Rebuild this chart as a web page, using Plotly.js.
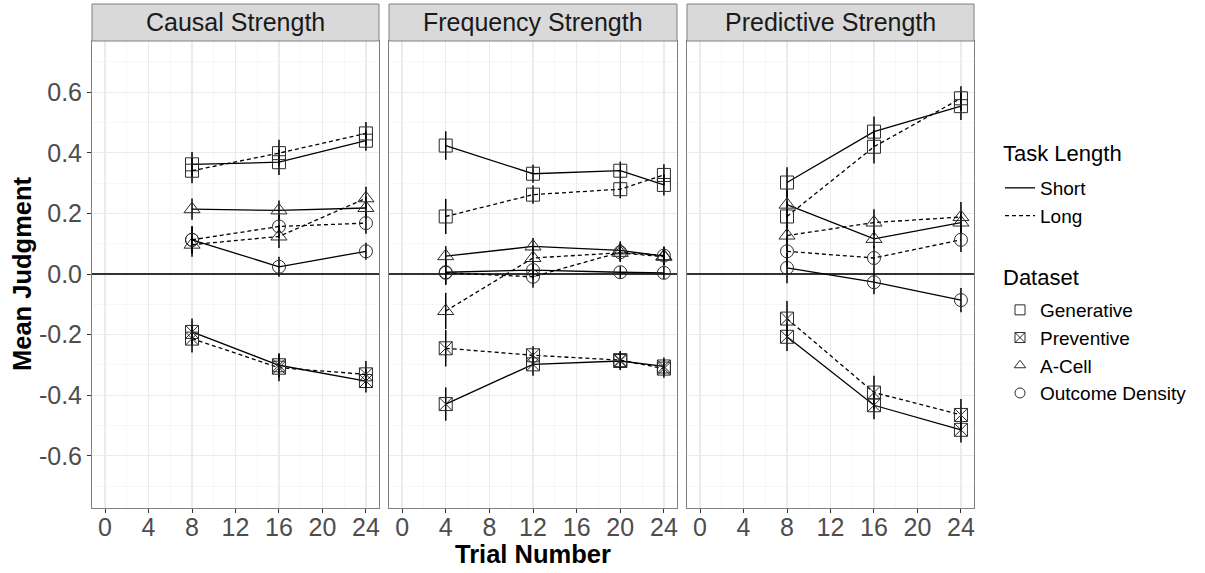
<!DOCTYPE html>
<html>
<head>
<meta charset="utf-8">
<script src="https://cdn.plot.ly/plotly-3.0.1.min.js"></script>
<style>html,body{margin:0;padding:0;background:#fff;}#chart{width:1205px;height:573px;}</style>
</head>
<body>
<div id="chart"></div>
<script>
// ---------------- DATA ----------------
const panelNames = ["Causal Strength", "Frequency Strength", "Predictive Strength"];
const datasetNames = ["Generative", "Preventive", "A-Cell", "Outcome Density"];
const lengthNames = ["Short", "Long"];

const causalTrials = [8, 16, 24];
const freqTrials = [4, 12, 20, 24];
const predTrials = [8, 16, 24];

// Causal Strength
const causalGenShort = [0.362, 0.369, 0.440];
const causalGenLong = [0.341, 0.399, 0.464];
const causalPrevShort = [-0.191, -0.301, -0.353];
const causalPrevLong = [-0.213, -0.309, -0.331];
const causalACShort = [0.214, 0.210, 0.218];
const causalACLong = [0.097, 0.124, 0.250];
const causalODShort = [0.113, 0.024, 0.075];
const causalODLong = [0.113, 0.157, 0.168];
const causalGenShortErr = [0.041, 0.042, 0.033];
const causalGenLongErr = [0.041, 0.044, 0.038];
const causalPrevShortErr = [0.044, 0.040, 0.038];
const causalPrevLongErr = [0.046, 0.045, 0.044];
const causalACShortErr = [0.035, 0.033, 0.035];
const causalACLongErr = [0.040, 0.038, 0.038];
const causalODShortErr = [0.045, 0.033, 0.028];
const causalODLongErr = [0.045, 0.038, 0.035];

// Frequency Strength
const freqGenShort = [0.424, 0.331, 0.341, 0.294];
const freqGenLong = [0.190, 0.262, 0.280, 0.327];
const freqPrevShort = [-0.429, -0.298, -0.287, -0.305];
const freqPrevLong = [-0.245, -0.268, -0.284, -0.312];
const freqACShort = [0.059, 0.091, 0.078, 0.059];
const freqACLong = [-0.122, 0.053, 0.070, 0.057];
const freqODShort = [0.006, 0.013, 0.006, 0.004];
const freqODLong = [0.004, -0.009, 0.072, 0.061];
const freqGenShortErr = [0.047, 0.030, 0.030, 0.035];
const freqGenLongErr = [0.058, 0.030, 0.030, 0.035];
const freqPrevShortErr = [0.055, 0.038, 0.030, 0.030];
const freqPrevLongErr = [0.060, 0.030, 0.030, 0.030];
const freqACShortErr = [0.033, 0.028, 0.030, 0.030];
const freqACLongErr = [0.060, 0.035, 0.030, 0.030];
const freqODShortErr = [0.040, 0.030, 0.020, 0.020];
const freqODLongErr = [0.040, 0.036, 0.030, 0.030];

// Predictive Strength
const predGenShort = [0.302, 0.470, 0.554];
const predGenLong = [0.190, 0.420, 0.580];
const predPrevShort = [-0.207, -0.433, -0.514];
const predPrevLong = [-0.147, -0.391, -0.465];
const predACShort = [0.229, 0.116, 0.170];
const predACLong = [0.127, 0.170, 0.188];
const predODShort = [0.020, -0.027, -0.086];
const predODLong = [0.075, 0.053, 0.113];
const predGenShortErr = [0.050, 0.050, 0.046];
const predGenLongErr = [0.050, 0.055, 0.040];
const predPrevShortErr = [0.047, 0.046, 0.042];
const predPrevLongErr = [0.058, 0.055, 0.053];
const predACShortErr = [0.050, 0.030, 0.035];
const predACLongErr = [0.050, 0.044, 0.050];
const predODShortErr = [0.050, 0.040, 0.040];
const predODLongErr = [0.050, 0.040, 0.040];

const xTickVals = [0, 4, 8, 12, 16, 20, 24];
const xTickText = ["0", "4", "8", "12", "16", "20", "24"];
const yTickVals = [-0.6, -0.4, -0.2, 0.0, 0.2, 0.4, 0.6];
const yTickText = ["-0.6", "-0.4", "-0.2", "0.0", "0.2", "0.4", "0.6"];

// ---------------- BUILD ----------------
const FONT = "Liberation Sans, Arial, Helvetica, sans-serif";
const symbols = ["square-open", "square-x-open", "triangle-up-open", "circle-open"];
const symSizes = [13, 13, 14, 13];
const dashes = ["solid", "4px,3px"];

const panels = [
  {trials: causalTrials,
   vals: [[causalGenShort, causalGenLong], [causalPrevShort, causalPrevLong], [causalACShort, causalACLong], [causalODShort, causalODLong]],
   errs: [[causalGenShortErr, causalGenLongErr], [causalPrevShortErr, causalPrevLongErr], [causalACShortErr, causalACLongErr], [causalODShortErr, causalODLongErr]]},
  {trials: freqTrials,
   vals: [[freqGenShort, freqGenLong], [freqPrevShort, freqPrevLong], [freqACShort, freqACLong], [freqODShort, freqODLong]],
   errs: [[freqGenShortErr, freqGenLongErr], [freqPrevShortErr, freqPrevLongErr], [freqACShortErr, freqACLongErr], [freqODShortErr, freqODLongErr]]},
  {trials: predTrials,
   vals: [[predGenShort, predGenLong], [predPrevShort, predPrevLong], [predACShort, predACLong], [predODShort, predODLong]],
   errs: [[predGenShortErr, predGenLongErr], [predPrevShortErr, predPrevLongErr], [predACShortErr, predACLongErr], [predODShortErr, predODLongErr]]}
];

const traces = [];
panels.forEach((p, pi) => {
  const sfx = pi === 0 ? "" : String(pi + 1);
  p.vals.forEach((pair, di) => {
    pair.forEach((yv, li) => {
      traces.push({
        type: "scatter", mode: "lines+markers",
        x: p.trials, y: yv,
        xaxis: "x" + sfx, yaxis: "y" + sfx,
        line: {color: "#000", width: 1.3, dash: dashes[li]},
        marker: {symbol: symbols[di], size: symSizes[di], color: "#2a2a2a", line: {width: 1}},
        error_y: {type: "data", array: p.errs[di][li], visible: true, width: 0, thickness: 1.5, color: "#000"},
        showlegend: false, hoverinfo: "x+y"
      });
    });
  });
});

// legend entries
lengthNames.forEach((nm, li) => {
  traces.push({type: "scatter", mode: "lines", x: [null], y: [null], name: nm,
    line: {color: "#000", width: 1.3, dash: dashes[li]}, legend: "legend", showlegend: true});
});
datasetNames.forEach((nm, di) => {
  traces.push({type: "scatter", mode: "markers", x: [null], y: [null], name: nm,
    marker: {symbol: symbols[di], size: 10, color: "#2a2a2a", line: {width: 1}}, legend: "legend2", showlegend: true});
});

const W = 1205, H = 573;
const panelPx = [[92, 379], [389, 677], [687, 974]];
const plotTop = 41, plotBottom = 508, stripTop = 4;
const yDom = [(H - plotBottom) / H, (H - plotTop) / H];

function xAxis(i) {
  return {
    domain: [panelPx[i][0] / W, panelPx[i][1] / W],
    range: [-1.2, 25.2], anchor: i === 0 ? "y" : "y" + (i + 1),
    tickmode: "array", tickvals: xTickVals, ticktext: xTickText,
    ticks: "outside", ticklen: 4, tickcolor: "#333", tickwidth: 1,
    ticklabelstandoff: -7,
    tickfont: {family: FONT, size: 25, color: "#4d4d4d"},
    showgrid: true, gridcolor: "#ebebeb", gridwidth: 1.2,
    minor: {tickmode: "linear", tick0: 2, dtick: 4, showgrid: true, gridcolor: "#f2f2f2", gridwidth: 0.6, ticks: ""},
    showline: true, mirror: true, linecolor: "#808080", linewidth: 1,
    zeroline: false, fixedrange: true
  };
}
function yAxis(i) {
  return {
    domain: yDom, range: [-0.772, 0.769], anchor: i === 0 ? "x" : "x" + (i + 1),
    tickmode: "array", tickvals: yTickVals, ticktext: yTickText,
    ticks: i === 0 ? "outside" : "", ticklen: 4, tickcolor: "#333", tickwidth: 1,
    showticklabels: i === 0,
    tickfont: {family: FONT, size: 25, color: "#4d4d4d"},
    showgrid: true, gridcolor: "#ebebeb", gridwidth: 1.2,
    minor: {tickmode: "linear", tick0: -0.7, dtick: 0.2, showgrid: true, gridcolor: "#f2f2f2", gridwidth: 0.6, ticks: ""},
    showline: true, mirror: true, linecolor: "#808080", linewidth: 1,
    zeroline: true, zerolinecolor: "#333", zerolinewidth: 1.5, fixedrange: true
  };
}

const shapes = [], annotations = [];
panelPx.forEach((px, i) => {
  shapes.push({type: "rect", xref: "paper", yref: "paper",
    x0: px[0] / W, x1: px[1] / W, y0: (H - plotTop) / H, y1: (H - stripTop) / H,
    fillcolor: "#d9d9d9", line: {color: "#808080", width: 1}, layer: "above"});
  annotations.push({xref: "paper", yref: "paper", x: (px[0] + px[1]) / 2 / W, y: (H - 22.5) / H,
    xanchor: "center", yanchor: "middle", showarrow: false, text: panelNames[i],
    font: {family: FONT, size: 25, color: "#1a1a1a"}});
});
annotations.push({xref: "paper", yref: "paper", x: 533 / W, y: (H - 554) / H,
  xanchor: "center", yanchor: "middle", showarrow: false, text: "<b>Trial Number</b>",
  font: {family: FONT, size: 25.5, color: "#000"}});
annotations.push({xref: "paper", yref: "paper", x: 22 / W, y: (H - 274) / H,
  xanchor: "center", yanchor: "middle", showarrow: false, textangle: -90, text: "<b>Mean Judgment</b>",
  font: {family: FONT, size: 25.5, color: "#000"}});
// legend titles
annotations.push({xref: "paper", yref: "paper", x: 1001 / W, y: (H - 153) / H,
  xanchor: "left", yanchor: "middle", showarrow: false, text: "Task Length",
  font: {family: FONT, size: 22, color: "#000"}});
annotations.push({xref: "paper", yref: "paper", x: 1001 / W, y: (H - 277) / H,
  xanchor: "left", yanchor: "middle", showarrow: false, text: "Dataset",
  font: {family: FONT, size: 22, color: "#000"}});

const layout = {
  width: W, height: H, margin: {l: 0, r: 0, t: 0, b: 0},
  paper_bgcolor: "#fff", plot_bgcolor: "#fff",
  font: {family: FONT, color: "#000"},
  xaxis: xAxis(0), xaxis2: xAxis(1), xaxis3: xAxis(2),
  yaxis: yAxis(0), yaxis2: yAxis(1), yaxis3: yAxis(2),
  shapes: shapes, annotations: annotations,
  legend: {x: 1000 / W, y: (H - 169) / H, xanchor: "left", yanchor: "top",
    font: {family: FONT, size: 19, color: "#000"}, bgcolor: "rgba(0,0,0,0)", borderwidth: 0, traceorder: "normal"},
  legend2: {x: 1000 / W, y: (H - 291) / H, xanchor: "left", yanchor: "top",
    font: {family: FONT, size: 19, color: "#000"}, bgcolor: "rgba(0,0,0,0)", borderwidth: 0, traceorder: "normal"},
  showlegend: true
};

Plotly.newPlot("chart", traces, layout, {displayModeBar: false, staticPlot: true});
</script>
</body>
</html>
